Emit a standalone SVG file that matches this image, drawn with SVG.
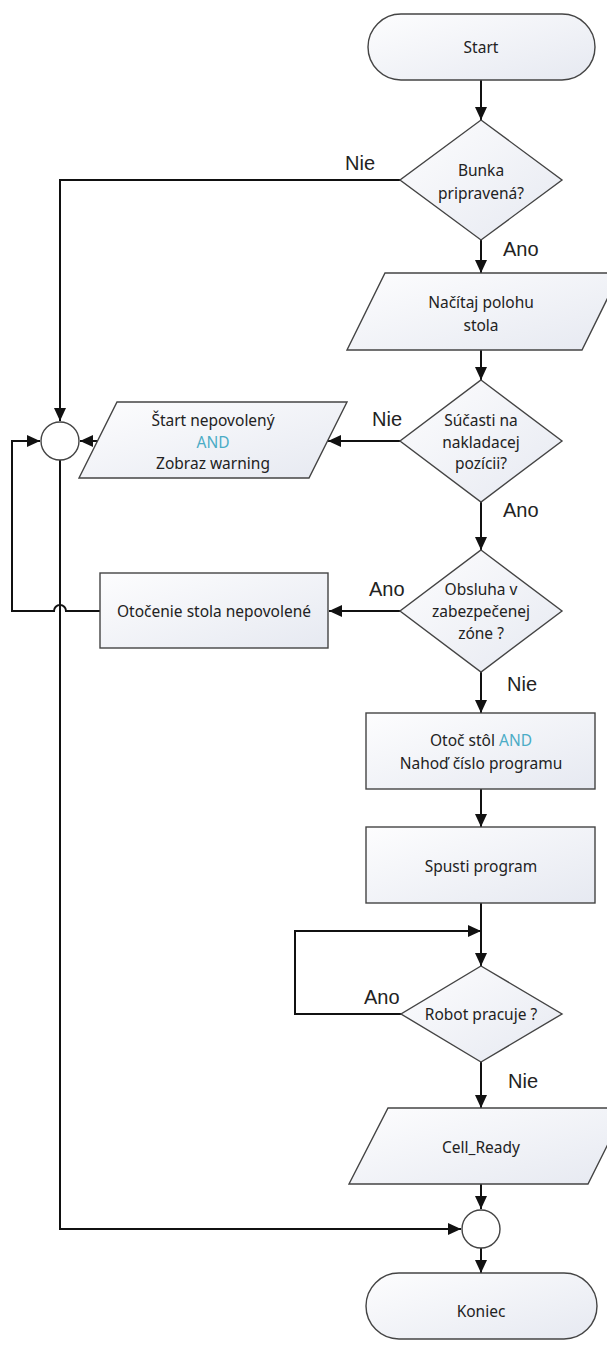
<svg xmlns="http://www.w3.org/2000/svg" width="607" height="1347" viewBox="0 0 607 1347">
<defs>
<linearGradient id="g" x1="0" y1="0" x2="1" y2="1">
<stop offset="0" stop-color="#fdfdfe"/>
<stop offset="1" stop-color="#e6e9f1"/>
</linearGradient>
<marker id="arr" markerUnits="userSpaceOnUse" markerWidth="13" markerHeight="12" refX="13" refY="6" orient="auto">
<path d="M0,0 L13,6 L0,12 z" fill="#111"/>
</marker>
</defs>
<style>
.s{fill:url(#g);stroke:#444;stroke-width:1.4}
.c{fill:#fff;stroke:#444;stroke-width:1.4}
.t{font-family:"Noto Sans","Liberation Sans",sans-serif;font-size:15.5px;fill:#222;text-anchor:middle}
.a{fill:#4bacc6}
.l{font-family:"Liberation Sans",Arial,sans-serif;font-size:20px;fill:#222}
.k{fill:none;stroke:#111;stroke-width:2}
.m{marker-end:url(#arr)}
</style>
<rect width="607" height="1347" fill="#fff"/>
<g id="connectors">
<path class="k m" d="M481,80 V120"/>
<path class="k m" d="M400,180 H60 V421"/>
<path class="k m" d="M481,240 V273"/>
<path class="k m" d="M481,350 V380"/>
<path class="k m" d="M400,441 H328"/>
<path class="k m" d="M98,441 H80"/>
<path class="k m" d="M481,502 V550"/>
<path class="k m" d="M400,611 H329"/>
<path class="k m" d="M100,611 H66 A6,6 0 0 0 54,611 H12 V441 H40"/>
<path class="k m" d="M481,672 V713"/>
<path class="k m" d="M481,789 V827"/>
<path class="k m" d="M481,903 V966"/>
<path class="k m" d="M401,1014 H295 V931 H481"/>
<path class="k m" d="M481,1062 V1108"/>
<path class="k m" d="M481,1184 V1209"/>
<path class="k m" d="M60,460 V1229 H461"/>
<path class="k m" d="M481,1248 V1273"/>
</g>
<g id="labels">
<text class="l" x="345" y="170">Nie</text>
<text class="l" x="503" y="256">Ano</text>
<text class="l" x="372" y="426">Nie</text>
<text class="l" x="503" y="517">Ano</text>
<text class="l" x="369" y="596">Ano</text>
<text class="l" x="507" y="691">Nie</text>
<text class="l" x="364" y="1004">Ano</text>
<text class="l" x="508" y="1088">Nie</text>
</g>
<g id="start">
<rect class="s" x="368" y="14" width="227" height="66" rx="33"/>
<text class="t" x="481" y="53">Start</text>
</g>
<g id="d1">
<polygon class="s" points="481,120 562,180 481,240 400,180"/>
<text class="t" x="481" y="176">Bunka</text>
<text class="t" x="481" y="199">pripravená?</text>
</g>
<g id="nacitaj">
<polygon class="s" points="385,273 620,273 582,350 347,350"/>
<text class="t" x="481" y="308">Načítaj polohu</text>
<text class="t" x="481" y="331">stola</text>
</g>
<g id="d2">
<polygon class="s" points="481,380 562,441 481,502 400,441"/>
<text class="t" x="481" y="426">Súčasti na</text>
<text class="t" x="481" y="448">nakladacej</text>
<text class="t" x="481" y="469">pozícii?</text>
</g>
<g id="start-nepovoleny">
<polygon class="s" points="117,402 347,402 309,478 79,478"/>
<text class="t" x="213" y="426">Štart nepovolený</text>
<text class="t a" x="213" y="448">AND</text>
<text class="t" x="213" y="469">Zobraz warning</text>
</g>
<g id="circle1">
<circle class="c" cx="60" cy="441" r="19"/>
</g>
<g id="d3">
<polygon class="s" points="481,550 562,611 481,672 400,611"/>
<text class="t" x="481" y="595">Obsluha v</text>
<text class="t" x="481" y="617">zabezpečenej</text>
<text class="t" x="481" y="639">zóne ?</text>
</g>
<g id="otocenie">
<rect class="s" x="100" y="573" width="228" height="75"/>
<text class="t" x="214" y="617">Otočenie stola nepovolené</text>
</g>
<g id="otoc">
<rect class="s" x="366" y="713" width="229" height="76"/>
<text class="t" x="481" y="746">Otoč stôl <tspan class="a">AND</tspan></text>
<text class="t" x="481" y="769">Nahoď číslo programu</text>
</g>
<g id="spusti">
<rect class="s" x="366" y="827" width="229" height="76"/>
<text class="t" x="481" y="872">Spusti program</text>
</g>
<g id="d4">
<polygon class="s" points="481,966 562,1014 481,1062 401,1014"/>
<text class="t" x="481" y="1020">Robot pracuje ?</text>
</g>
<g id="cellready">
<polygon class="s" points="388,1108 626,1108 588,1184 349,1184"/>
<text class="t" x="481" y="1153">Cell_Ready</text>
</g>
<g id="circle2">
<circle class="c" cx="481" cy="1229" r="19"/>
</g>
<g id="koniec">
<rect class="s" x="366" y="1273" width="231" height="66" rx="33"/>
<text class="t" x="481" y="1317">Koniec</text>
</g>
</svg>
